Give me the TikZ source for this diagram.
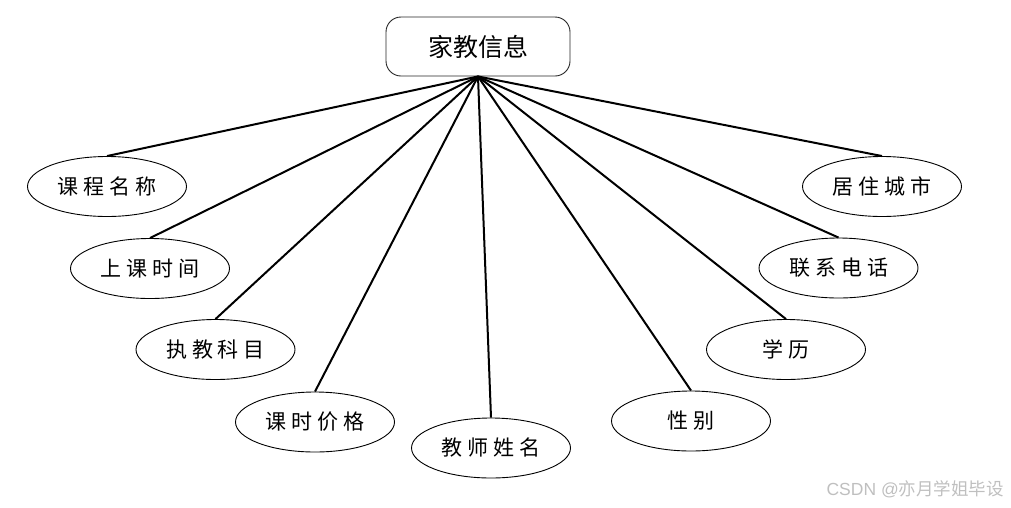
\documentclass[tikz,border=0pt]{standalone}
\usepackage{fontspec}
\setmainfont{Noto Sans CJK SC}
\newfontfamily\cjk{Noto Sans CJK SC}
\newfontfamily\wmlatin{Liberation Sans}
\newcommand\chgap{\kern5pt}
\tikzset{
  attr/.style={draw=black, line width=0.9pt, ellipse, minimum width=159pt, minimum height=60pt,
    inner sep=0pt, font=\cjk\fontsize{21pt}{21pt}\selectfont, text=black},
  entity/.style={draw=black!85, line width=0.9pt, rounded corners=15pt, minimum width=184pt,
    minimum height=59pt, inner sep=0pt, font=\cjk\fontsize{25pt}{25pt}\selectfont},
  link/.style={line width=2pt, black},
}
\usetikzlibrary{shapes.geometric}
\begin{document}
\begin{tikzpicture}[x=1pt,y=-1pt]
\useasboundingbox (0,0) rectangle (1011,507);
\node[entity] (top) at (478,46.5) {家教信息};
\node[attr] (a1) at (107,186.5) {课\chgap 程\chgap 名\chgap 称};
\node[attr] (a2) at (150,268.5) {上\chgap 课\chgap 时\chgap 间};
\node[attr] (a3) at (215.5,349.5) {执\chgap 教\chgap 科\chgap 目};
\node[attr] (a4) at (315,422) {课\chgap 时\chgap 价\chgap 格};
\node[attr] (a5) at (491,448) {教\chgap 师\chgap 姓\chgap 名};
\node[attr] (a6) at (691,421) {性\chgap 别};
\node[attr] (a7) at (786,349.5) {学\chgap 历};
\node[attr] (a8) at (838.5,268) {联\chgap 系\chgap 电\chgap 话};
\node[attr] (a9) at (882,186.5) {居\chgap 住\chgap 城\chgap 市};
\foreach \n in {a1,a2,a3,a4,a5,a6,a7,a8,a9}
  \draw[link] (top.south) -- (\n.north);
\node[anchor=east, text=black!25, font=\cjk\fontsize{17.5pt}{17.5pt}\selectfont, inner sep=0pt] (wm) at (1004,489) {{\wmlatin CSDN @}亦月学姐毕设};
\end{tikzpicture}
\end{document}
